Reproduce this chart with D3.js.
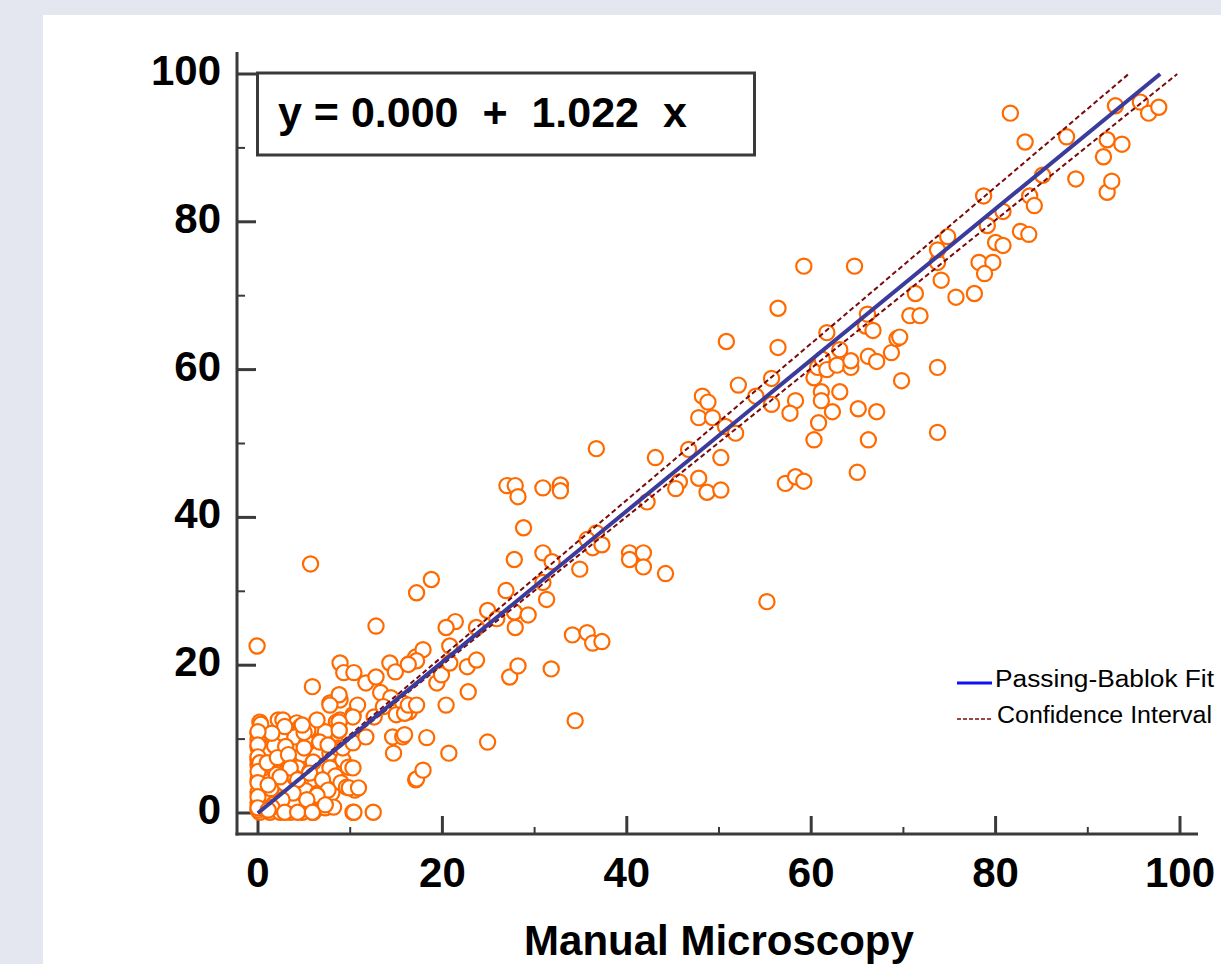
<!DOCTYPE html>
<html lang="en">
<head>
  <meta charset="UTF-8">
  <title>Passing-Bablok</title>
  <script src="https://cdn.jsdelivr.net/npm/d3@7/dist/d3.min.js"></script>
  <style>
    body { margin: 0; background: #e4e7ef; }
    svg { display: block; font-family: Arial, "Liberation Sans", sans-serif; }
  </style>
</head>
<body>
  <svg id="chart" width="1221" height="964"></svg>
  <script>
    // manual microscopy (x) vs automated count (y)
    const points = [
      // dense low cluster
      [0.2,12.3],[2.2,12.6],[2.7,12.6],[4.2,12.2],[3.3,11.2],[4.6,11.7],[5.9,11.5],[5.4,11.2],[7.5,10.8],[8.3,9.9],
      [8.5,12.3],[0,10.8],[1.3,10.6],[2.6,9.9],[4.0,10.3],[5.3,9.5],[6.7,9.5],[7.2,9.9],[0,8.9],[1.0,8.1],
      [2.2,7.9],[3.5,7.6],[4.8,7.9],[6.4,7.9],[7.8,8.1],[8.7,8.8],[0,6.5],[0.5,5.8],[1.6,6.2],[3.1,5.6],
      [4.3,6.1],[5.6,5.6],[6.7,6.2],[7.8,6.1],[0,4.5],[1.1,4.2],[2.4,4.5],[3.5,3.5],[4.9,4.2],[6.2,4.1],
      [7.3,3.5],[8.0,2.7],[0,2.8],[0.8,2.4],[2.1,2.2],[3.1,2.0],[4.6,2.2],[5.6,1.5],[6.9,1.8],[0,1.4],
      [0.2,0.1],[1.3,0.1],[2.4,0.1],[3.5,0.1],[4.8,0.1],[6.0,0.1],[7.3,0.7],[0,9.9],[0,7.2],[0,0.4],
      [1.8,9.1],[3.0,9.0],[5.0,8.8],[1.4,3.3],[2.9,4.0],[5.2,3.0],[6.0,6.9],[3.9,1.0],[1.7,1.2],[8.4,5.0],
      [9.0,4.1],[9.2,7.2],[8.8,11.2],[8.8,12.3],[0.3,12.0],[2.0,5.2],[4.0,4.8],[6.5,2.7],[8.2,0.8],[5.0,10.9],
      [2.9,11.7],[4.8,11.9],[7.3,11.0],[1.5,10.8],[6.7,9.6],[7.6,9.2],[0,11.0],[0,9.2],[0,7.6],[0.2,6.8],
      [0,5.6],[0,4.1],[0,2.2],[0,0.7],[1.0,6.8],[2.1,7.5],[3.3,7.9],[3.5,6.1],[2.4,4.9],[1.1,3.8],
      [4.3,4.5],[5.6,5.4],[7.0,4.5],[7.6,3.1],[6.4,2.4],[5.3,1.8],[3.8,2.7],[2.6,1.8],[1.5,0.8],[2.9,0.1],
      [4.3,0.1],[5.9,0.1],[7.3,1.1],[1.1,0.4],[9.2,8.8],[10.3,9.5],[8.9,12.6],[7.8,14.9],[8.9,15.3],[10.3,13.3],
      [9.8,6.2],[9.6,3.5],[10.5,3.1],[10.3,0.1],[6.4,12.6],
      // low / mid range
      [-0.1,22.6],[5.9,17.1],[5.7,33.7],[12.8,25.3],[8.9,20.3],[9.3,19.0],[10.4,19.0],[11.7,17.6],[12.8,18.4],[14.3,20.3],
      [14.9,19.1],[16.4,20.2],[17.1,21.1],[13.3,16.3],[14.4,15.6],[8.8,16.0],[7.8,14.6],[10.8,14.6],[10.3,13.0],[12.6,13.0],
      [13.6,14.4],[15.7,14.9],[15.0,13.3],[16.4,13.7],[8.8,12.3],[8.8,11.2],[11.7,10.3],[14.6,10.3],[15.7,10.3],[14.7,8.1],
      [10.3,6.1],[9.9,3.4],[10.9,3.4],[10.4,0.1],[12.5,0.1],[17.1,4.5],[17.2,4.6],[17.9,5.8],[18.3,10.2],[20.7,8.1],
      [24.9,9.6],[15.9,10.6],[15.9,13.5],[16.3,14.6],[17.2,14.6],[20.4,14.6],[22.8,16.4],[19.4,17.6],[19.9,18.7],[20.8,20.3],
      [20.8,22.6],[17.9,22.1],[17.2,20.6],[16.3,20.1],[22.7,19.8],[23.7,20.7],[27.3,18.4],[28.2,19.9],[31.8,19.5],[34.4,12.5],
      [18.8,31.6],[17.2,29.8],[21.4,25.9],[20.4,25.1],[23.7,25.1],[24.9,27.4],[25.9,26.3],[27.9,25.1],[27.8,27.2],[29.3,26.8],
      [26.9,30.1],[30.9,31.2],[31.3,28.9],[27.8,34.3],[30.9,35.2],[31.9,34.0],[28.8,38.6],[27.0,44.3],[27.9,44.3],[28.2,42.8],
      [30.9,44.0],[32.8,44.4],[32.8,43.6],[36.7,49.3],[36.7,37.9],[35.7,37.0],[36.3,35.9],[37.3,36.3],[34.9,33.0],[34.1,24.1],
      [35.7,24.4],[36.3,23.0],[37.3,23.2],[40.3,35.2],[40.3,34.3],[41.8,35.2],[41.8,33.3],[44.2,32.4],
      // upper range
      [43.1,48.1],[46.7,49.2],[50.2,48.1],[42.2,42.1],[45.7,44.8],[45.3,43.9],[47.8,45.3],[48.7,43.4],[50.2,43.7],[57.2,44.6],
      [58.3,45.5],[59.2,44.9],[55.2,28.6],[48.2,56.4],[48.8,55.6],[47.8,53.5],[49.3,53.5],[50.7,52.3],[51.8,51.4],[50.8,63.8],
      [52.1,57.9],[54.0,56.4],[55.7,55.3],[55.7,58.8],[56.4,63.0],[56.4,68.3],[59.2,74.0],[64.7,74.0],[58.3,55.8],[57.7,54.1],
      [61.1,57.0],[61.1,55.8],[63.1,57.0],[62.3,54.3],[60.8,52.8],[60.3,50.5],[60.3,58.9],[60.7,60.3],[61.2,61.4],[61.7,60.0],
      [62.8,60.6],[64.3,60.3],[64.3,61.2],[63.1,62.7],[61.7,65.0],[65.9,65.9],[66.1,67.5],[66.7,65.3],[66.2,61.8],[67.1,61.1],
      [65.1,54.7],[67.1,54.3],[66.2,50.5],[65.0,46.1],[68.7,62.3],[69.3,64.2],[69.8,58.5],[73.7,60.3],[73.7,51.5],[69.6,64.4],
      [70.7,67.3],[71.8,67.3],[71.3,70.3],[75.7,69.8],[77.7,70.3],[74.1,72.1],[73.7,74.5],[73.7,76.2],[74.8,78.0],[78.2,74.5],
      [79.7,74.5],[78.8,73.0],[80.0,77.2],[80.8,76.8],[82.7,78.7],[83.6,78.3],[79.1,79.5],[80.8,81.4],[78.7,83.5],[83.7,83.5],
      [84.2,82.2],[85.1,86.3],[88.7,85.8],[92.1,84.0],[92.6,85.5],[91.7,88.8],[92.1,91.1],[93.7,90.5],[87.7,91.5],[83.2,90.8],
      [81.6,94.7],[93.0,95.7],[95.7,96.2],[96.6,94.7],[97.7,95.5]
    ];

    // Passing-Bablok fit and confidence bounds: [intercept, slope]
    const fit = [0.0, 1.022];
    const ciUpper = [0.0, 1.059];
    const ciLower = [0.0, 1.003];

    const xTicks = [0, 20, 40, 60, 80, 100];
    const yTicks = [0, 20, 40, 60, 80, 100];
    const minorTicks = [10, 30, 50, 70, 90];

    const equation = 'y = 0.000  +  1.022  x';
    const xTitle = 'Manual Microscopy';
    const legendItems = ['Passing-Bablok Fit', 'Confidence Interval'];

    const svg = d3.select('#chart');
    svg.append('rect').attr('width', 1221).attr('height', 964).attr('fill', '#e4e7ef');
    svg.append('rect').attr('x', 43).attr('y', 15).attr('width', 1178).attr('height', 949).attr('fill', '#fff');

    const x = d3.scaleLinear().domain([0, 100]).range([258, 1180]);
    const y = d3.scaleLinear().domain([0, 100]).range([813, 74]);

    const axisColor = '#3a3a3a';
    const x0 = x(0) - 21;   // y axis position
    const y0 = y(0) + 21;   // x axis position

    // axis lines
    svg.append('line')
      .attr('x1', x0).attr('x2', x0)
      .attr('y1', y(100) - 22).attr('y2', y0 + 1.5)
      .attr('stroke', axisColor).attr('stroke-width', 3);
    svg.append('line')
      .attr('x1', x0 - 1.5).attr('x2', x(100) + 18)
      .attr('y1', y0).attr('y2', y0)
      .attr('stroke', axisColor).attr('stroke-width', 3);

    // y ticks
    svg.selectAll('.ytick').data(yTicks).enter().append('line')
      .attr('x1', x0).attr('x2', x0 + 19)
      .attr('y1', d => y(d)).attr('y2', d => y(d))
      .attr('stroke', axisColor).attr('stroke-width', 3);
    svg.selectAll('.yminor').data(minorTicks).enter().append('line')
      .attr('x1', x0).attr('x2', x0 + 8)
      .attr('y1', d => y(d)).attr('y2', d => y(d))
      .attr('stroke', axisColor).attr('stroke-width', 2);
    svg.selectAll('.ylab').data(yTicks).enter().append('text')
      .attr('x', x0 - 16).attr('y', d => y(d) + 11)
      .attr('text-anchor', 'end')
      .attr('font-size', 42).attr('font-weight', 'bold')
      .text(d => d);

    // x ticks
    svg.selectAll('.xtick').data(xTicks).enter().append('line')
      .attr('x1', d => x(d)).attr('x2', d => x(d))
      .attr('y1', y0).attr('y2', y0 - 18)
      .attr('stroke', axisColor).attr('stroke-width', 3);
    svg.selectAll('.xminor').data(minorTicks).enter().append('line')
      .attr('x1', d => x(d)).attr('x2', d => x(d))
      .attr('y1', y0).attr('y2', y0 - 7)
      .attr('stroke', axisColor).attr('stroke-width', 2);
    svg.selectAll('.xlab').data(xTicks).enter().append('text')
      .attr('x', d => x(d)).attr('y', y0 + 53)
      .attr('text-anchor', 'middle')
      .attr('font-size', 42).attr('font-weight', 'bold')
      .text(d => d);

    svg.append('text')
      .attr('x', (x(0) + x(100)) / 2).attr('y', 955)
      .attr('text-anchor', 'middle')
      .attr('font-size', 42).attr('font-weight', 'bold')
      .text(xTitle);

    // points
    svg.append('g').selectAll('circle').data(points).enter().append('circle')
      .attr('cx', d => x(d[0])).attr('cy', d => y(d[1]))
      .attr('r', 7.6)
      .attr('fill', '#fff')
      .attr('stroke', '#ff6a00')
      .attr('stroke-width', 2.2);

    // lines, each ends where it reaches y = 100
    function drawLine(coef, color, width, dash) {
      const xEnd = Math.min(100, (100 - coef[0]) / coef[1]);
      const pts = [0, xEnd].map(v => [x(v), y(coef[0] + coef[1] * v)]);
      svg.append('path')
        .attr('d', d3.line()(pts))
        .attr('fill', 'none')
        .attr('stroke', color)
        .attr('stroke-width', width)
        .attr('stroke-dasharray', dash);
    }
    drawLine(ciUpper, '#7a0a0a', 2, '5,3');
    drawLine(ciLower, '#7a0a0a', 2, '5,3');
    drawLine(fit, '#3b3b9c', 4, null);

    // equation box
    svg.append('rect')
      .attr('x', x(0) - 0.5).attr('y', y(100) - 1)
      .attr('width', 497).attr('height', 82)
      .attr('fill', '#fff')
      .attr('stroke', axisColor).attr('stroke-width', 3);
    svg.append('text')
      .attr('x', x(0) + 20).attr('y', y(100) + 53)
      .attr('xml:space', 'preserve')
      .style('white-space', 'pre')
      .attr('font-size', 43).attr('font-weight', 'bold')
      .text(equation);

    // legend
    const lg = svg.append('g').attr('transform', 'translate(957,683)');
    lg.append('line').attr('x1', 0).attr('x2', 35).attr('y1', 0).attr('y2', 0)
      .attr('stroke', '#1010f0').attr('stroke-width', 3);
    lg.append('line').attr('x1', 0).attr('x2', 35).attr('y1', 36).attr('y2', 36)
      .attr('stroke', '#7a0a0a').attr('stroke-width', 1.5).attr('stroke-dasharray', '4,2');
    lg.selectAll('text').data(legendItems).enter().append('text')
      .attr('x', d => d === legendItems[0] ? 38 : 40)
      .attr('y', (d, i) => 4 + i * 36)
      .attr('font-size', 23)
      .attr('textLength', (d, i) => i === 0 ? 219 : 215)
      .attr('lengthAdjust', 'spacingAndGlyphs')
      .text(d => d);
  </script>
</body>
</html>
